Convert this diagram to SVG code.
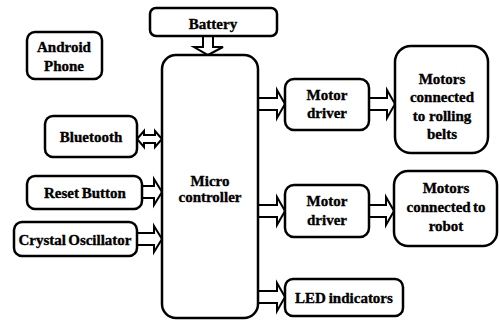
<svg xmlns="http://www.w3.org/2000/svg" width="499" height="324" viewBox="0 0 499 324">
<style>
.box{fill:#fff;stroke:#000;stroke-width:2.5}
.arr{fill:#fff;stroke:#000;stroke-width:2;stroke-linejoin:miter}
text{font-family:"Liberation Serif","Times New Roman",serif;font-weight:bold;font-size:15px;text-anchor:middle;fill:#000;stroke:#000;stroke-width:0.35}
</style>
<rect width="499" height="324" fill="#fff"/>
<g id="connectors">
<path class="arr" d="M203,37 V47 H194 L208,55 L223,47 H213 V37"/>
<path class="arr" d="M137,139 L144,131 V135 H155 V131 L162,139 L155,147 V143 H144 V147 Z"/>
<path class="arr" d="M142,186 H154 V179 L162,192 L154,205 V198 H142"/>
<path class="arr" d="M137,233 H154 V226 L162,239 L154,252 V245 H137"/>
<path class="arr" d="M258,98 H277 V90 L285,104 L277,118 V110 H258"/>
<path class="arr" d="M369,98 H387 V90 L395,104 L387,118 V110 H369"/>
<path class="arr" d="M258,205 H277 V197 L285,211 L277,225 V217 H258"/>
<path class="arr" d="M369,205 H386 V197 L394,211 L386,225 V217 H369"/>
<path class="arr" d="M258,291 H277 V283 L285,297 L277,311 V303 H258"/>
</g>
<g id="battery"><rect class="box" x="150" y="8" width="127" height="28" rx="6"/><text x="213" y="29">Battery</text></g>
<g id="android"><rect class="box" x="27" y="32" width="75" height="47" rx="8"/><text x="64" y="52">Android</text><text x="64" y="71">Phone</text></g>
<g id="bluetooth"><rect class="box" x="45" y="116" width="92" height="41" rx="8"/><text x="91" y="142">Bluetooth</text></g>
<g id="reset"><rect class="box" x="27" y="176" width="115" height="33" rx="8"/><text x="85" y="198" word-spacing="-1">Reset Button</text></g>
<g id="crystal"><rect class="box" x="14" y="222" width="123" height="34" rx="8"/><text x="75" y="245" word-spacing="-1.5">Crystal Oscillator</text></g>
<g id="micro"><rect class="box" x="162" y="55" width="96" height="263" rx="14"/><text x="210" y="186">Micro</text><text x="210" y="202">controller</text></g>
<g id="driver1"><rect class="box" x="285" y="79" width="84" height="51" rx="9"/><text x="327" y="100">Motor</text><text x="327" y="118">driver</text></g>
<g id="belts"><rect class="box" x="395" y="46" width="93" height="107" rx="16"/><text x="442" y="84">Motors</text><text x="442" y="102">connected</text><text x="442" y="121">to rolling</text><text x="442" y="139">belts</text></g>
<g id="driver2"><rect class="box" x="285" y="185" width="84" height="52" rx="9"/><text x="327" y="206">Motor</text><text x="327" y="225">driver</text></g>
<g id="robot"><rect class="box" x="394" y="171" width="103" height="75" rx="14"/><text x="446" y="193">Motors</text><text x="446" y="212" word-spacing="-1.5">connected to</text><text x="446" y="231">robot</text></g>
<g id="led"><rect class="box" x="285" y="279" width="118" height="37" rx="8"/><text x="344" y="303" word-spacing="-1">LED indicators</text></g>
</svg>
